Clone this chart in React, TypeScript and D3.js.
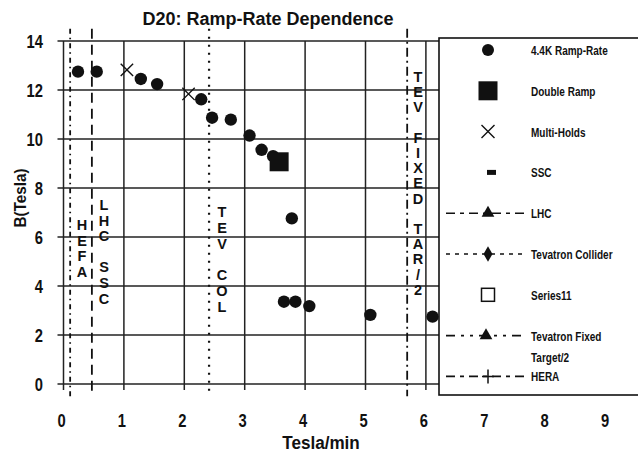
import React from "react";
import * as d3 from "d3";

// ---- data ----
const rampX = [0.24, 0.55, 1.28, 1.55, 2.28, 2.46, 2.77, 3.08, 3.28, 3.47, 3.78, 3.65, 3.84, 4.07, 5.08, 6.11];
const rampY = [12.75, 12.75, 12.45, 12.24, 11.62, 10.87, 10.79, 10.14, 9.56, 9.3, 6.76, 3.36, 3.36, 3.18, 2.82, 2.75];
const doubleRampX = [3.57];
const doubleRampY = [9.07];
const multiHoldX = [1.05, 2.07];
const multiHoldY = [12.82, 11.84];

const refNames = ["HERA", "LHC", "TEV COL", "TEV FIXED"];
const refX = [0.11, 0.47, 2.41, 5.69];
const refYRange = [-0.5, 14.5];
const refLabels = ["HEFA", "LHC SSC", "TEV COL", "TEV FIXED TAR/2"];

const xTicks = [0, 1, 2, 3, 4, 5, 6, 7, 8, 9];
const yTicks = [0, 2, 4, 6, 8, 10, 12, 14];

const legendNames = [
  "4.4K Ramp-Rate",
  "Double Ramp",
  "Multi-Holds",
  "SSC",
  "LHC",
  "Tevatron Collider",
  "Series11",
  "Tevatron Fixed\nTarget/2",
  "HERA",
];

const title = "D20: Ramp-Rate Dependence";
const xTitle = "Tesla/min";
const yTitle = "B(Tesla)";

// ---- layout / style ----
const W = 638;
const H = 459;
const INK = "#111";
const GRID = "#222";
const FONT = "'Liberation Sans', Arial, Helvetica, sans-serif";

const refDash = ["5,4,1.5,4", "10,6", "2,6", "9,4,2,4"];
const refLabelPos = [
  { px: 82, top: 225, step: 15.6 },
  { px: 104, top: 205, step: 15.6 },
  { px: 222, top: 212, step: 15.8 },
  { px: 418, top: 77, step: 15.2 },
];

function NText(props: any) {
  const { x, y, squeeze = 0.82, children, ...rest } = props;
  return (
    <text transform={`translate(${x},${y}) scale(${squeeze},1)`} fontFamily={FONT} fill={INK} {...rest}>
      {children}
    </text>
  );
}

export default function App() {
  const x = d3.scaleLinear().domain([0, 10]).range([63.5, 667.5]);
  const y = d3.scaleLinear().domain([0, 14]).range([384, 41]);
  const x0 = x(0);
  const y0 = y(0);

  const ramp = rampX.map((v, i) => ({ x: v, y: rampY[i] }));
  const dbl = doubleRampX.map((v, i) => ({ x: v, y: doubleRampY[i] }));
  const mh = multiHoldX.map((v, i) => ({ x: v, y: multiHoldY[i] }));

  const triangle = d3.symbol().type(d3.symbolTriangle).size(70)() as string;
  const diamond = d3.symbol().type(d3.symbolDiamond).size(70)() as string;

  // legend
  const lgX = 439;
  const lgTop = 38;
  const lgBottom = 395;
  const lgMarkX = 488;
  const lgLine = [446, 527];
  const lgText = 531;
  const lgY = (i: number) => 50 + i * 40.8;

  const legendMarker = (i: number) => {
    const cy = lgY(i);
    switch (i) {
      case 0:
        return <circle cx={lgMarkX} cy={cy} r={6} fill={INK} />;
      case 1:
        return <rect x={lgMarkX - 9.5} y={cy - 9.5} width={19} height={19} fill={INK} />;
      case 2:
        return (
          <path
            d={`M${lgMarkX - 6.5},${cy - 6.5}L${lgMarkX + 6.5},${cy + 6.5}M${lgMarkX - 6.5},${cy + 6.5}L${lgMarkX + 6.5},${cy - 6.5}`}
            stroke={INK}
            strokeWidth={1.4}
          />
        );
      case 3:
        return <rect x={lgMarkX - 1} y={cy - 2.5} width={9} height={5} fill={INK} />;
      case 4:
        return (
          <g>
            <line x1={lgLine[0]} x2={lgLine[1]} y1={cy} y2={cy} stroke={INK} strokeWidth={1.6} strokeDasharray="9,5,4,5" />
            <path d={triangle} transform={`translate(${lgMarkX},${cy})`} fill={INK} />
          </g>
        );
      case 5:
        return (
          <g>
            <line x1={lgLine[0]} x2={lgLine[1]} y1={cy} y2={cy} stroke={INK} strokeWidth={1.6} strokeDasharray="4,5" />
            <path d={diamond} transform={`translate(${lgMarkX},${cy})`} fill={INK} />
          </g>
        );
      case 6:
        return <rect x={lgMarkX - 6.5} y={cy - 6.5} width={13} height={13} fill="white" stroke={INK} strokeWidth={1.5} />;
      case 7:
        return (
          <g>
            <line x1={lgLine[0]} x2={lgLine[1]} y1={cy} y2={cy} stroke={INK} strokeWidth={1.6} strokeDasharray="9,6,3,6,3,6" />
            <path d={triangle} transform={`translate(${lgMarkX - 2},${cy})`} fill={INK} />
          </g>
        );
      default:
        return (
          <g>
            <line x1={lgLine[0]} x2={lgLine[1]} y1={cy} y2={cy} stroke={INK} strokeWidth={1.6} strokeDasharray="9,5,4,5" />
            <path d={`M${lgMarkX - 6},${cy}H${lgMarkX + 6}M${lgMarkX},${cy - 7}V${cy + 7}`} stroke={INK} strokeWidth={1.5} />
          </g>
        );
    }
  };

  return (
    <svg
      width={W}
      height={H}
      viewBox={`0 0 ${W} ${H}`}
      style={{ position: "absolute", left: 0, top: 0, background: "white" }}
    >
      <rect x={0} y={0} width={W} height={H} fill="white" />
      <text x={268} y={25} textAnchor="middle" fontFamily={FONT} fontSize={18} fontWeight="bold" fill={INK}>
        {title}
      </text>

      {/* horizontal grid */}
      {yTicks.map((t) => (
        <line key={`h${t}`} x1={x0 - 6} x2={x(10)} y1={y(t)} y2={y(t)} stroke={GRID} strokeWidth={1.5} />
      ))}
      {/* vertical grid */}
      {xTicks.map((t) => (
        <line key={`v${t}`} x1={x(t)} x2={x(t)} y1={y(14)} y2={y0 + 6} stroke={GRID} strokeWidth={1.5} />
      ))}

      {/* y tick labels */}
      {yTicks.map((t) => (
        <NText key={`yl${t}`} x={43} y={y(t)} textAnchor="end" dominantBaseline="central" fontSize={18} fontWeight="bold">
          {t}
        </NText>
      ))}
      {/* x tick labels */}
      {xTicks.map((t) => (
        <NText key={`xl${t}`} x={x(t) - 2} y={420} textAnchor="middle" dominantBaseline="central" fontSize={18} fontWeight="bold">
          {t}
        </NText>
      ))}

      <NText x={321} y={443} squeeze={0.9} textAnchor="middle" dominantBaseline="central" fontSize={19} fontWeight="bold">
        {xTitle}
      </NText>
      <text
        transform={`translate(20,198) rotate(-90) scale(0.9,1)`}
        textAnchor="middle"
        dominantBaseline="central"
        fontFamily={FONT}
        fontSize={17}
        fontWeight="bold"
        fill={INK}
      >
        {yTitle}
      </text>

      {/* reference lines */}
      {refX.map((v, i) => (
        <line
          key={refNames[i]}
          x1={x(v)}
          x2={x(v)}
          y1={y(refYRange[1])}
          y2={y(refYRange[0])}
          stroke={INK}
          strokeWidth={i === 2 ? 2.2 : 1.8}
          strokeDasharray={refDash[i]}
        />
      ))}
      {refLabels.map((lab, i) => {
        const p = refLabelPos[i];
        return (
          <text
            key={lab}
            textAnchor="middle"
            dominantBaseline="central"
            fontFamily={FONT}
            fontSize={14.5}
            fontWeight="bold"
            fill={INK}
          >
            {lab.split("").map((ch, j) =>
              ch === " " ? null : (
                <tspan key={j} x={p.px} y={p.top + j * p.step}>
                  {ch}
                </tspan>
              )
            )}
          </text>
        );
      })}

      {/* data */}
      {ramp.map((d, i) => (
        <circle key={`r${i}`} cx={x(d.x)} cy={y(d.y)} r={6.2} fill={INK} />
      ))}
      {dbl.map((d, i) => (
        <rect key={`d${i}`} x={x(d.x) - 9.5} y={y(d.y) - 9.5} width={19} height={19} fill={INK} />
      ))}
      {mh.map((d, i) => {
        const cx = x(d.x);
        const cy = y(d.y);
        const s = 6.2;
        return (
          <path
            key={`m${i}`}
            d={`M${cx - s},${cy - s}L${cx + s},${cy + s}M${cx - s},${cy + s}L${cx + s},${cy - s}`}
            stroke={INK}
            strokeWidth={1.4}
          />
        );
      })}

      {/* legend */}
      <rect x={lgX} y={lgTop} width={260} height={lgBottom - lgTop} fill="white" stroke={INK} strokeWidth={1.6} />
      {legendNames.map((name, i) => (
        <g key={name}>
          {legendMarker(i)}
          {name.split("\n").map((part, k) => (
            <NText key={k} x={lgText} y={lgY(i) + k * 21.5} squeeze={0.77} dominantBaseline="central" fontSize={13} fontWeight="bold">
              {part}
            </NText>
          ))}
        </g>
      ))}
    </svg>
  );
}
